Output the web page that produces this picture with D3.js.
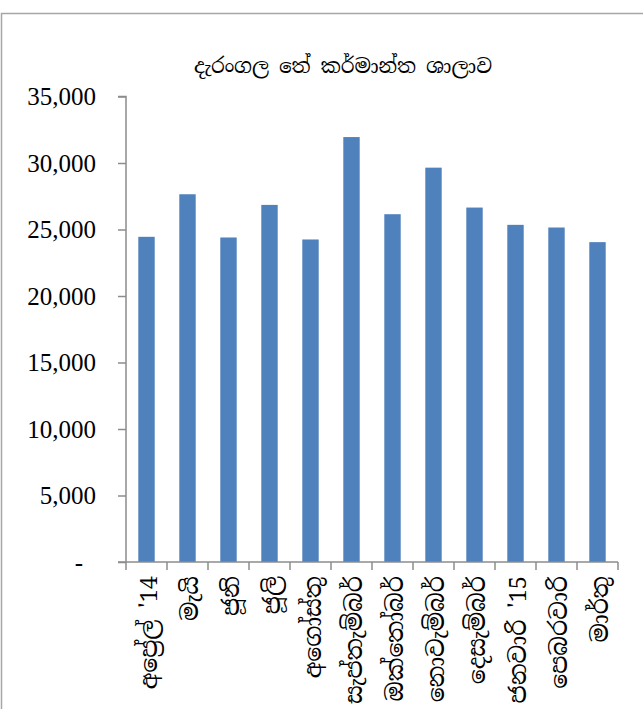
<!DOCTYPE html>
<html>
<head>
<meta charset="utf-8">
<script src="https://cdn.jsdelivr.net/npm/d3@7"></script>
<style>
body { margin: 0; background: #fff; }
</style>
</head>
<body>
<svg width="643" height="709"></svg>
<script>
var months = ["අප්‍රේල් '14", "මැයි", "ජූනි", "ජූලි", "අගෝස්තු", "සැප්තැම්බර්", "ඔක්තෝබර්", "නොවැම්බර්", "දෙසැම්බර්", "ජනවාරි '15", "පෙබරවාරි", "මාර්තු"];
var values = [24450, 27650, 24400, 26850, 24250, 31950, 26150, 29650, 26650, 25350, 25150, 24050];
var yTicks = [0, 5000, 10000, 15000, 20000, 25000, 30000, 35000];
var title = "දැරංගල තේ කර්මාන්ත ශාලාව";

var svg = d3.select("svg");
var sinhalaFont = "'Noto Serif Sinhala', 'Noto Sans Sinhala', 'Iskoola Pota', 'Liberation Serif', serif";

// outer frame
svg.append("rect")
   .attr("x", 1.5)
   .attr("y", 13.5)
   .attr("width", 700)
   .attr("height", 800)
   .style("fill", "none")
   .style("stroke", "#a6a6a6")
   .style("stroke-width", 1.5);

var plotLeft = 126, plotRight = 618, plotTop = 96.5, plotBottom = 562;

var x = d3.scaleBand().domain(months).range([plotLeft, plotRight]).paddingInner(0.6).paddingOuter(0.3);
var y = d3.scaleLinear().domain([0, 35000]).range([plotBottom, plotTop]);

svg.append("text")
   .attr("x", 343)
   .attr("y", 66)
   .attr("dy", ".35em")
   .style("text-anchor", "middle")
   .style("font-family", sinhalaFont)
   .style("font-size", "20px")
   .text(title);

svg.selectAll(".bar")
   .data(values)
   .enter()
   .append("rect")
   .attr("class", "bar")
   .attr("x", (d, i) => x(months[i]))
   .attr("y", d => y(d))
   .attr("width", x.bandwidth())
   .attr("height", d => plotBottom - y(d))
   .style("fill", "#4f81bd");

var yAxis = d3.axisLeft(y)
   .tickValues(yTicks)
   .tickSize(8)
   .tickPadding(22)
   .tickFormat(d => d === 0 ? "-" : d3.format(",")(d));

var gy = svg.append("g")
   .attr("transform", "translate(" + plotLeft + ",0)")
   .call(yAxis);
gy.select(".domain").attr("d", "M-8," + plotTop + "H0V" + plotBottom).style("stroke", "#8c8c8c").style("stroke-width", 1.5);
gy.selectAll(".tick line").style("stroke", "#8c8c8c").style("stroke-width", 1.5);
gy.selectAll(".tick text")
  .style("font-family", "'Liberation Serif', serif")
  .style("font-size", "25px")
  .style("fill", "#000");
// accounting style dash sits a little left of the numbers
gy.selectAll(".tick text").filter(d => d === 0).attr("x", -43);

// x axis with ticks between categories
var step = (plotRight - plotLeft) / months.length;
var xb = svg.append("g");
xb.append("line")
  .attr("x1", plotLeft - 8).attr("x2", plotRight)
  .attr("y1", plotBottom).attr("y2", plotBottom)
  .style("stroke", "#8c8c8c").style("stroke-width", 1.5);
d3.range(months.length + 1).forEach(function(i) {
  xb.append("line")
    .attr("x1", plotLeft + i * step).attr("x2", plotLeft + i * step)
    .attr("y1", plotBottom).attr("y2", plotBottom + 8)
    .style("stroke", "#8c8c8c").style("stroke-width", 1.5);
});

months.forEach(function(m, i) {
  var cx = x(m) + x.bandwidth() / 2 + 2;
  svg.append("text")
     .attr("transform", "translate(" + cx + "," + (plotBottom + 14) + ") rotate(-90)")
     .attr("dy", ".35em")
     .style("text-anchor", "end")
     .style("font-family", sinhalaFont)
     .style("font-size", "23.5px")
     .text(m);
});
</script>
</body>
</html>
